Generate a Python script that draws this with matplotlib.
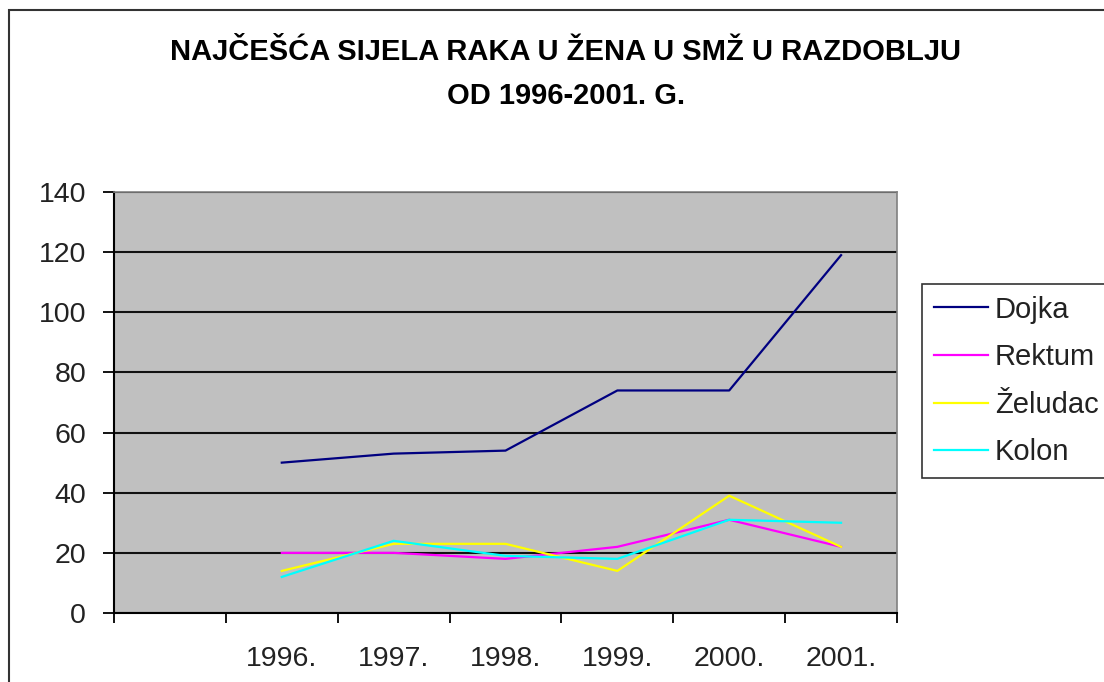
import matplotlib.pyplot as plt
from matplotlib.patches import Rectangle

plt.rcParams['font.family'] = ['Liberation Sans', 'DejaVu Sans']

# podaci po godinama (prva kategorija je prazna kao u originalu)
godine = ['1996.', '1997.', '1998.', '1999.', '2000.', '2001.']
dojka = [50, 53, 54, 74, 74, 119]
rektum = [20, 20, 18, 22, 31, 22]
zeludac = [14, 23, 23, 14, 39, 22]
kolon = [12, 24, 19, 18, 31, 30]

serije = [
    ('Dojka', dojka, '#000080'),
    ('Rektum', rektum, '#FF00FF'),
    ('Želudac', zeludac, '#FFFF00'),
    ('Kolon', kolon, '#00FFFF'),
]

fig = plt.figure(figsize=(11.04, 6.82), dpi=100)
ax = fig.add_axes([114 / 1104, 1 - 613 / 682, 783 / 1104, 421 / 682])
ax.set_facecolor('#C0C0C0')

x = [i + 1.5 for i in range(len(godine))]
for ime, vrijednosti, boja in serije:
    ax.plot(x, vrijednosti, color=boja, lw=1.6, label=ime, zorder=3)

ax.set_xlim(0, len(godine) + 1)
ax.set_ylim(0, 140)
ax.set_yticks(range(0, 141, 20))
ax.yaxis.grid(True, color='#111111', lw=1.5)
ax.set_axisbelow(True)

ax.set_xticks(range(0, len(godine) + 2))
ax.set_xticklabels([])
ax.set_xticks(x, minor=True)
ax.set_xticklabels(godine, minor=True)
ax.tick_params(axis='x', which='major', direction='out', length=7.5, width=1.3)
ax.tick_params(axis='x', which='minor', length=0, pad=24, labelsize=20.5, labelcolor='#222222')
ax.tick_params(axis='y', direction='out', length=8, width=1.3, pad=12,
               labelsize=20.5, labelcolor='#222222')

for s in ['top', 'right']:
    ax.spines[s].set_color('#808080')
    ax.spines[s].set_linewidth(1.2)
for s in ['left', 'bottom']:
    ax.spines[s].set_color('black')
    ax.spines[s].set_linewidth(1.5)

fig.text(566 / 1104, 1 - 74 / 682,
         'NAJČEŠĆA SIJELA RAKA U ŽENA U SMŽ U RAZDOBLJU\nOD 1996-2001. G.',
         ha='center', va='center', fontsize=21, fontweight='bold',
         linespacing=1.7)

leg = ax.legend(loc='upper left', bbox_to_anchor=(922 / 1104, 1 - 284 / 682),
                bbox_transform=fig.transFigure, fontsize=21, frameon=True,
                fancybox=False, borderpad=0.4, labelspacing=0.67,
                handlelength=1.85, handletextpad=0.25, borderaxespad=0)
leg.get_frame().set_edgecolor('black')
leg.get_frame().set_linewidth(1.2)
for t in leg.get_texts():
    t.set_color('#222222')

# okvir grafikona
fig.add_artist(Rectangle((9 / 1104, -0.1), 1.2, 1.1 - 10 / 682,
                         transform=fig.transFigure, fill=False,
                         ec='#333333', lw=1.5))

plt.savefig('out.png', dpi=100)
